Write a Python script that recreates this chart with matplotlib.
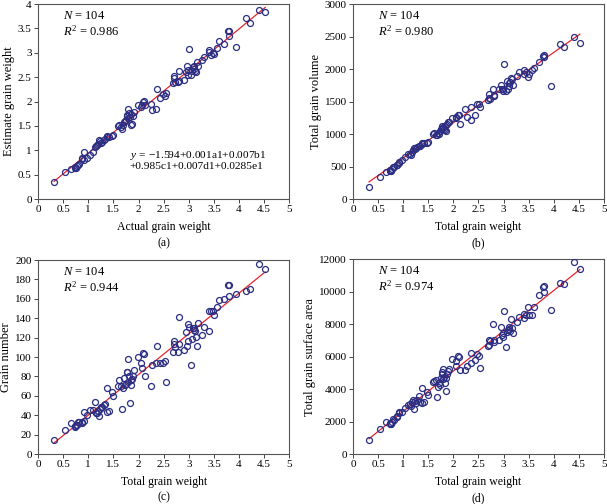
import numpy as np
import matplotlib
matplotlib.use('Agg')
import matplotlib.pyplot as plt

plt.rcParams['font.family'] = ['Liberation Serif', 'DejaVu Serif']
plt.rcParams['mathtext.fontset'] = 'custom'
plt.rcParams['mathtext.rm'] = 'Liberation Serif'
plt.rcParams['mathtext.it'] = 'Liberation Serif:italic'

# Total (actual) grain weight, shared by all four panels
weight = [0.32, 0.54, 0.65, 0.73, 0.74, 0.76, 0.77, 0.79, 0.82, 0.87,
          0.88, 0.91, 0.92, 0.97, 1.04, 1.10, 1.14, 1.16, 1.17, 1.20,
          1.22, 1.24, 1.26, 1.28, 1.32, 1.34, 1.37, 1.38, 1.42, 1.47,
          1.49, 1.59, 1.61, 1.65, 1.68, 1.69, 1.72, 1.74, 1.75, 1.77,
          1.78, 1.79, 1.80, 1.81, 1.83, 1.85, 1.86, 1.87, 1.89, 1.91,
          1.98, 2.05, 2.06, 2.09, 2.11, 2.13, 2.24, 2.27, 2.35, 2.36,
          2.43, 2.48, 2.52, 2.54, 2.68, 2.70, 2.71, 2.73, 2.78, 2.80,
          2.81, 2.91, 2.95, 2.96, 2.98, 2.99, 3.01, 3.05, 3.06, 3.08,
          3.10, 3.11, 3.13, 3.15, 3.17, 3.19, 3.27, 3.30, 3.40, 3.41,
          3.45, 3.48, 3.51, 3.56, 3.60, 3.70, 3.78, 3.80, 3.81, 3.94,
          4.13, 4.21, 4.40, 4.52]

est_weight = [0.36, 0.55, 0.62, 0.63, 0.66, 0.64, 0.68, 0.70, 0.72, 0.82,
              0.84, 0.80, 0.96, 0.84, 0.90, 0.96, 1.07, 1.08, 1.10, 1.12,
              1.22, 1.20, 1.16, 1.18, 1.22, 1.24, 1.28, 1.30, 1.27, 1.30,
              1.32, 1.50, 1.52, 1.48, 1.44, 1.52, 1.58, 1.60, 1.62, 1.70,
              1.72, 1.66, 1.84, 1.76, 1.68, 1.52, 1.74, 1.53, 1.70, 1.78,
              1.93, 1.88, 1.92, 2.00, 2.02, 1.92, 1.95, 1.82, 1.85, 2.26,
              2.08, 2.15, 2.12, 2.18, 2.38, 2.48, 2.52, 2.40, 2.40, 2.63,
              2.42, 2.45, 2.60, 2.72, 2.55, 2.65, 3.07, 2.55, 2.62, 2.70,
              2.72, 2.66, 2.62, 2.60, 2.82, 2.72, 2.85, 2.92, 3.02, 3.06,
              2.96, 3.00, 2.98, 3.10, 3.24, 3.19, 3.45, 3.45, 3.35, 3.11,
              3.71, 3.62, 3.88, 3.84]

volume = [190, 335, 420, 430, 440, 435, 470, 490, 500, 520,
          530, 550, 570, 600, 640, 690, 700, 680, 720, 760,
          780, 770, 790, 800, 820, 810, 840, 860, 870, 870,
          880, 1000, 1010, 990, 980, 1010, 1000, 1050, 1080, 1100,
          1120, 1090, 1110, 1080, 1060, 1040, 1140, 1160, 1180, 1190,
          1250, 1240, 1270, 1290, 1300, 1160, 1390, 1260, 1220, 1420,
          1300, 1460, 1470, 1420, 1530, 1560, 1610, 1540, 1700, 1580,
          1600, 1690, 1760, 1700, 1660, 1690, 2080, 1670, 1820, 1700,
          1780, 1740, 1800, 1860, 1840, 1750, 1900, 1950, 1980, 1920,
          1950, 1880, 1930, 1980, 2020, 2110, 2200, 2220, 2180, 1740,
          2390, 2340, 2500, 2400]

number = [15, 25, 32, 28, 29, 30, 30, 33, 33, 33,
          32, 34, 43, 40, 45, 45, 54, 42, 42, 44,
          39, 46, 49, 49, 51, 52, 43, 68, 44, 64,
          60, 70, 76, 70, 46, 68, 78, 71, 72, 85,
          85, 74, 98, 80, 53, 71, 76, 77, 80, 87,
          100, 94, 89, 104, 103, 80, 70, 92, 94, 111,
          94, 94, 96, 74, 105, 117, 113, 110, 105, 141,
          113, 107, 126, 111, 117, 134, 131, 92, 119, 130,
          128, 130, 127, 121, 111, 135, 123, 131, 148, 127,
          147, 147, 143, 152, 159, 160, 174, 174, 163, 165,
          168, 170, 196, 191]

area = [870, 1530, 1950, 1850, 1900, 1880, 1950, 2150, 2100, 2300,
        2350, 2550, 2600, 2580, 2850, 3000, 3100, 2950, 3200, 3300,
        2800, 3250, 3150, 3350, 3600, 3200, 3150, 4080, 3200, 3800,
        3650, 4450, 4500, 4550, 3520, 4150, 4400, 4250, 4700, 4900,
        5050, 4600, 5250, 4750, 4350, 3870, 4700, 4950, 5100, 5250,
        5850, 5450, 5700, 6050, 5950, 5150, 5150, 5400, 5600, 6250,
        5800, 6150, 6050, 5320, 6650, 7050, 6700, 6950, 8000, 6900,
        7000, 7000, 7850, 7300, 7450, 7200, 8800, 6620, 7500, 7650,
        7700, 7800, 7600, 8300, 7750, 7450, 8150, 8450, 8350, 8600,
        8550, 9080, 8550, 8550, 9050, 9800, 10300, 10350, 10000, 8850,
        10550, 10450, 11800, 11400]

panels = [
    (est_weight, 'Actual grain weight', 'Estimate grain weight', '0.986', (0, 4, 0.5), '(a)'),
    (volume, 'Total grain weight', 'Total grain volume', '0.980', (0, 3000, 500), '(b)'),
    (number, 'Total grain weight', 'Grain number', '0.944', (0, 200, 20), '(c)'),
    (area, 'Total grain weight', 'Total grain surface area', '0.974', (0, 12000, 2000), '(d)'),
]

positions = [
    [0.0626, 0.605, 0.414, 0.387],
    [0.5815, 0.605, 0.4135, 0.387],
    [0.0626, 0.099, 0.414, 0.385],
    [0.5815, 0.099, 0.4135, 0.387],
]

navy = '#2b2e83'
red = '#e8242a'

fig = plt.figure(figsize=(6.07, 5.04), dpi=100)
x = np.array(weight)

for (yv, xl, yl, r2, (lo, hi, step), cap), pos in zip(panels, positions):
    ax = fig.add_axes(pos)
    y = np.array(yv)
    m, b = np.polyfit(x, y, 1)
    xx = np.array([x.min(), x.max()])
    ax.plot(x, y, 'o', mfc='none', mec=navy, ms=4.3, mew=0.9, zorder=3)
    ax.plot(xx, m * xx + b, color=red, lw=0.9, zorder=2)
    ax.set_xlim(0, 5)
    ax.set_ylim(lo, hi)
    ax.set_xticks(np.arange(0, 5.01, 0.5))
    ax.set_xticklabels(['0', '0.5', '1', '1.5', '2', '2.5', '3', '3.5', '4', '4.5', '5'])
    ax.set_yticks(np.arange(lo, hi + step / 2, step))
    if step < 1:
        ax.set_yticklabels(['0', '0.5', '1', '1.5', '2', '2.5', '3', '3.5', '4'])
    ax.tick_params(labelsize=8, length=3, width=0.7, color='#444444', pad=1.5)
    for s in ax.spines.values():
        s.set_color('#555555')
        s.set_linewidth(0.8)
    ax.set_xlabel(xl, fontsize=8.5, labelpad=5)
    ax.set_ylabel(yl, fontsize=9, labelpad=2)
    ax.text(0.10, 0.94, r'$N$ = 104', transform=ax.transAxes, fontsize=9, va='center')
    ax.text(0.10, 0.86, r'$R^2$ = ' + r2, transform=ax.transAxes, fontsize=9, va='center')
    ax.text(0.5, -0.225, cap, transform=ax.transAxes, fontsize=8.5, ha='center', va='center')
    if cap == '(a)':
        ax.text(0.365, 0.225, r'$y$ = $-$1.594+0.001a1+0.007b1', transform=ax.transAxes,
                fontsize=8.2, va='center')
        ax.text(0.365, 0.165, '+0.985c1+0.007d1+0.0285e1', transform=ax.transAxes,
                fontsize=8.2, va='center')

fig.savefig('out.png', dpi=100)
